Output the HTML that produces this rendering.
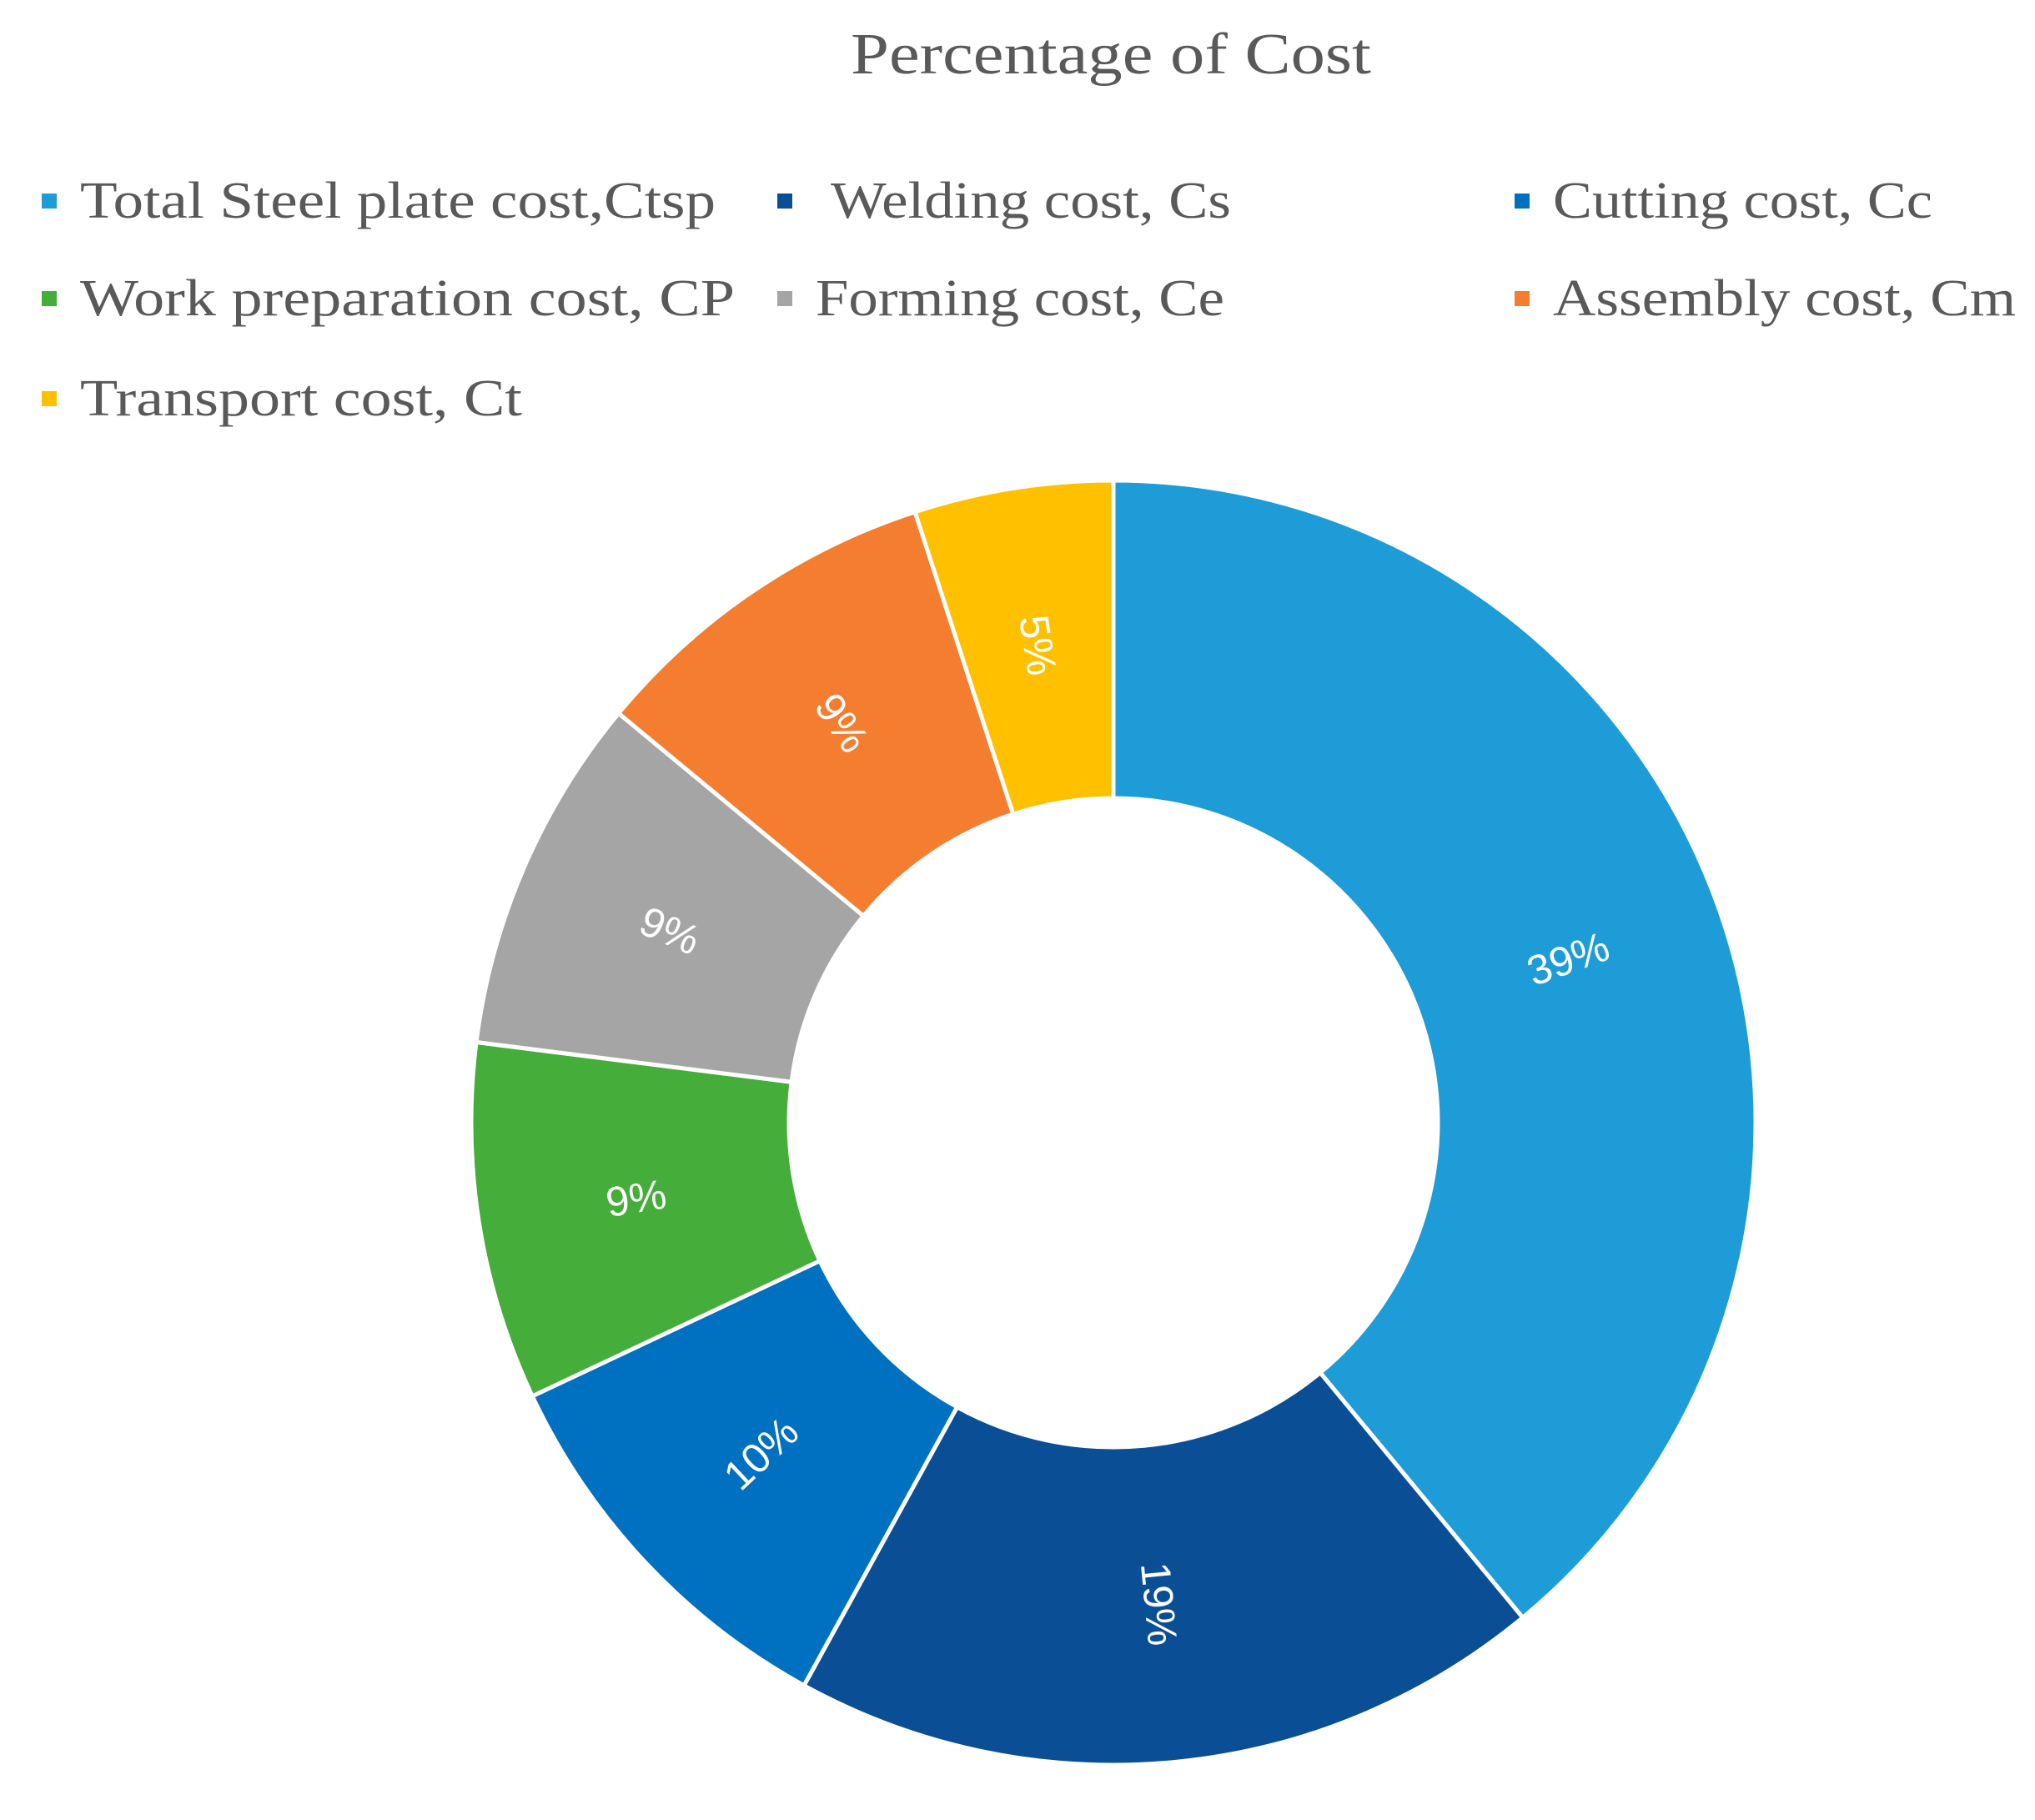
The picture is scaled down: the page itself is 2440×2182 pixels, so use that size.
<!DOCTYPE html>
<html><head><meta charset="utf-8"><style>
html,body{margin:0;padding:0;background:#fff;}
svg{display:block;}
</style></head><body>
<svg id="chart" width="2440" height="2182" viewBox="0 0 2440 2182" xmlns="http://www.w3.org/2000/svg">
<text x="1332" y="88" text-anchor="middle" font-family="Liberation Serif, serif" font-size="70" fill="#595959" textLength="624" lengthAdjust="spacingAndGlyphs">Percentage of Cost</text>
<g id="legend"></g>
<g id="slices"></g>
<g id="labels"></g>
</svg>
<script>
const categories = ["Total Steel plate cost,Ctsp","Welding cost, Cs","Cutting cost, Cc","Work preparation cost, CP","Forming cost, Ce","Assembly cost, Cm","Transport cost, Ct"];
const values = [39, 19, 10, 9, 9, 9, 5];
const valueLabels = ["39%","19%","10%","9%","9%","9%","5%"];
const colors = ["#1e9cd7","#0a4f96","#0070c0","#45ad3a","#a5a5a5","#f47d30","#ffc000"];
const NS="http://www.w3.org/2000/svg";
const cx=1335, cy=1346, R=770, r=389;
const total=values.reduce((a,b)=>a+b,0);
function pt(a,rad){const t=a*Math.PI/180;return [cx+rad*Math.sin(t),cy-rad*Math.cos(t)];}
let acc=0;
const sg=document.getElementById('slices'), lg=document.getElementById('labels');
values.forEach((v,i)=>{
  const a0=acc/total*360, a1=(acc+v)/total*360; acc+=v;
  const large=(a1-a0)>180?1:0;
  const p0=pt(a0,R),p1=pt(a1,R),q1=pt(a1,r),q0=pt(a0,r);
  const p=document.createElementNS(NS,'path');
  p.setAttribute('d',`M${p0} A${R},${R} 0 ${large} 1 ${p1} L${q1} A${r},${r} 0 ${large} 0 ${q0} Z`);
  p.setAttribute('fill',colors[i]);p.setAttribute('stroke','#fff');p.setAttribute('stroke-width','5');
  
  
  sg.appendChild(p);
  const m=(a0+a1)/2; const lp=pt(m,(R+r)/2);
  let rot=m-90; if(rot>90) rot-=180;
  const t=document.createElementNS(NS,'text');
  t.setAttribute('x',lp[0]);t.setAttribute('y',lp[1]);
  t.setAttribute('text-anchor','middle');t.setAttribute('dominant-baseline','central');
  t.setAttribute('font-family','Liberation Sans, sans-serif');t.setAttribute('font-size','50');t.setAttribute('fill','#fff');
  t.setAttribute('transform',`rotate(${rot} ${lp[0]} ${lp[1]})`);
  t.textContent=valueLabels[i];
  
  
  lg.appendChild(t);
});
const leg=document.getElementById('legend');
const colX=[59,941,1825], rowY=[241,358,478];
const widths=[762,480,455,785,490,555,530];
const extraX=[0,18,0,0,0,0,0];
categories.forEach((c,i)=>{
  const col=i%3,row=Math.floor(i/3);
  const g=document.createElementNS(NS,'g');
  
  
  const s=document.createElementNS(NS,'rect');
  s.setAttribute('x',colX[col]-9);s.setAttribute('y',rowY[row]-9);s.setAttribute('width',18);s.setAttribute('height',18);s.setAttribute('fill',colors[i]);
  g.appendChild(s);
  const t=document.createElementNS(NS,'text');
  t.setAttribute('x',colX[col]+37+extraX[i]);t.setAttribute('y',rowY[row]+20);
  t.setAttribute('font-family','Liberation Serif, serif');t.setAttribute('font-size','62');t.setAttribute('fill','#595959');
  t.setAttribute('textLength',widths[i]);t.setAttribute('lengthAdjust','spacingAndGlyphs');
  t.textContent=c;
  g.appendChild(t);
  leg.appendChild(g);
});
</script>
</body></html>
